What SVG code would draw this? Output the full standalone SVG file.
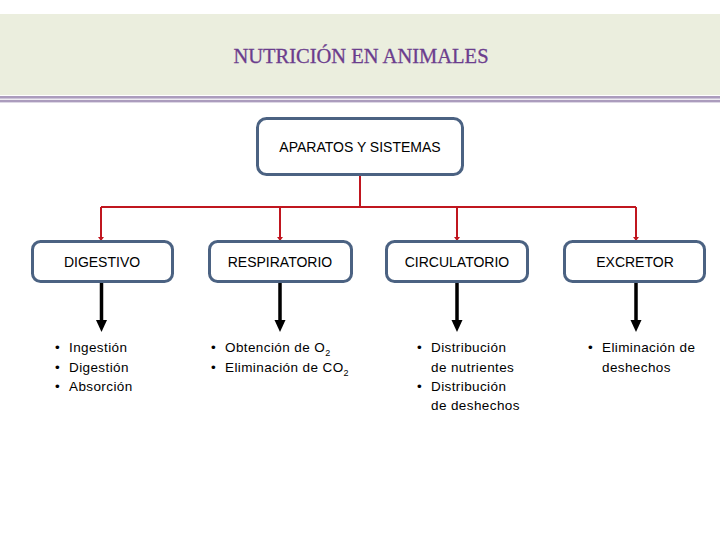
<svg xmlns="http://www.w3.org/2000/svg" width="720" height="540" viewBox="0 0 720 540">
<style>
.node rect{fill:#fff;stroke:#4b6282;stroke-width:3}
.lbl{font-family:"Liberation Sans",Arial,sans-serif;font-size:14px;fill:#000;text-anchor:middle}
.bul{font-family:"Liberation Sans",Arial,sans-serif;font-size:13.5px;fill:#000;letter-spacing:0.4px}
.red{fill:none;stroke:#c0161f;stroke-width:2}
.blk{fill:none;stroke:#000;stroke-width:3.5}
.rh{fill:#c0161f}
.bh{fill:#000}
</style>
<rect width="720" height="540" fill="#fff"/>
<g id="header">
<rect x="0" y="14" width="720" height="81" fill="#ebeede"/>
<rect x="0" y="96" width="720" height="2.6" fill="#ab9cbd"/>
<rect x="0" y="99.8" width="720" height="2.6" fill="#ab9cbd"/>
<text x="361" y="63" font-family="'Liberation Serif','Times New Roman',serif" font-size="20.5" fill="#6b3d8d" stroke="#6b3d8d" stroke-width="0.3" text-anchor="middle">NUTRICIÓN EN ANIMALES</text>
</g>
<g id="connectors">
<path class="red" d="M360,175 V207 M101,207 H636 M101,207 V240 M280,207 V240 M457,207 V240 M636,207 V240"/>
<path class="rh" d="M98,237 L104,237 L101,241 Z"/>
<path class="rh" d="M277,237 L283,237 L280,241 Z"/>
<path class="rh" d="M454,237 L460,237 L457,241 Z"/>
<path class="rh" d="M633,237 L639,237 L636,241 Z"/>
<path class="blk" d="M101.5,283 V322 M280,283 V322 M457,283 V322 M636,283 V322"/>
<path class="bh" d="M96,320 L107,320 L101.5,332 Z"/>
<path class="bh" d="M274.5,320 L285.5,320 L280,332 Z"/>
<path class="bh" d="M451.5,320 L462.5,320 L457,332 Z"/>
<path class="bh" d="M630.5,320 L641.5,320 L636,332 Z"/>
</g>
<g id="n-top" class="node">
<rect x="257.5" y="118.5" width="205" height="56" rx="9"/>
<text class="lbl" x="360" y="152">APARATOS Y SISTEMAS</text>
</g>
<g id="n-digestivo" class="node">
<rect x="32.5" y="241.5" width="140" height="40" rx="8"/>
<text class="lbl" x="102" y="267">DIGESTIVO</text>
</g>
<g id="n-respiratorio" class="node">
<rect x="209.5" y="241.5" width="142" height="40" rx="8"/>
<text class="lbl" x="280" y="267">RESPIRATORIO</text>
</g>
<g id="n-circulatorio" class="node">
<rect x="386.5" y="241.5" width="141" height="40" rx="8"/>
<text class="lbl" x="457" y="267">CIRCULATORIO</text>
</g>
<g id="n-excretor" class="node">
<rect x="564.5" y="241.5" width="140" height="40" rx="8"/>
<text class="lbl" x="635" y="267">EXCRETOR</text>
</g>
<g id="t-digestivo" class="bul">
<text x="55" y="352">•</text><text x="69" y="352">Ingestión</text>
<text x="55" y="372">•</text><text x="69" y="372">Digestión</text>
<text x="55" y="391">•</text><text x="69" y="391">Absorción</text>
</g>
<g id="t-respiratorio" class="bul">
<text x="211" y="352">•</text><text x="225" y="352">Obtención de O<tspan font-size="9" dy="4">2</tspan></text>
<text x="211" y="372">•</text><text x="225" y="372">Eliminación de CO<tspan font-size="9" dy="4">2</tspan></text>
</g>
<g id="t-circulatorio" class="bul">
<text x="417" y="352">•</text><text x="431" y="352">Distribución</text>
<text x="431" y="372">de nutrientes</text>
<text x="417" y="391">•</text><text x="431" y="391">Distribución</text>
<text x="431" y="410">de deshechos</text>
</g>
<g id="t-excretor" class="bul">
<text x="588" y="352">•</text><text x="602" y="352">Eliminación de</text>
<text x="602" y="372">deshechos</text>
</g>
</svg>
